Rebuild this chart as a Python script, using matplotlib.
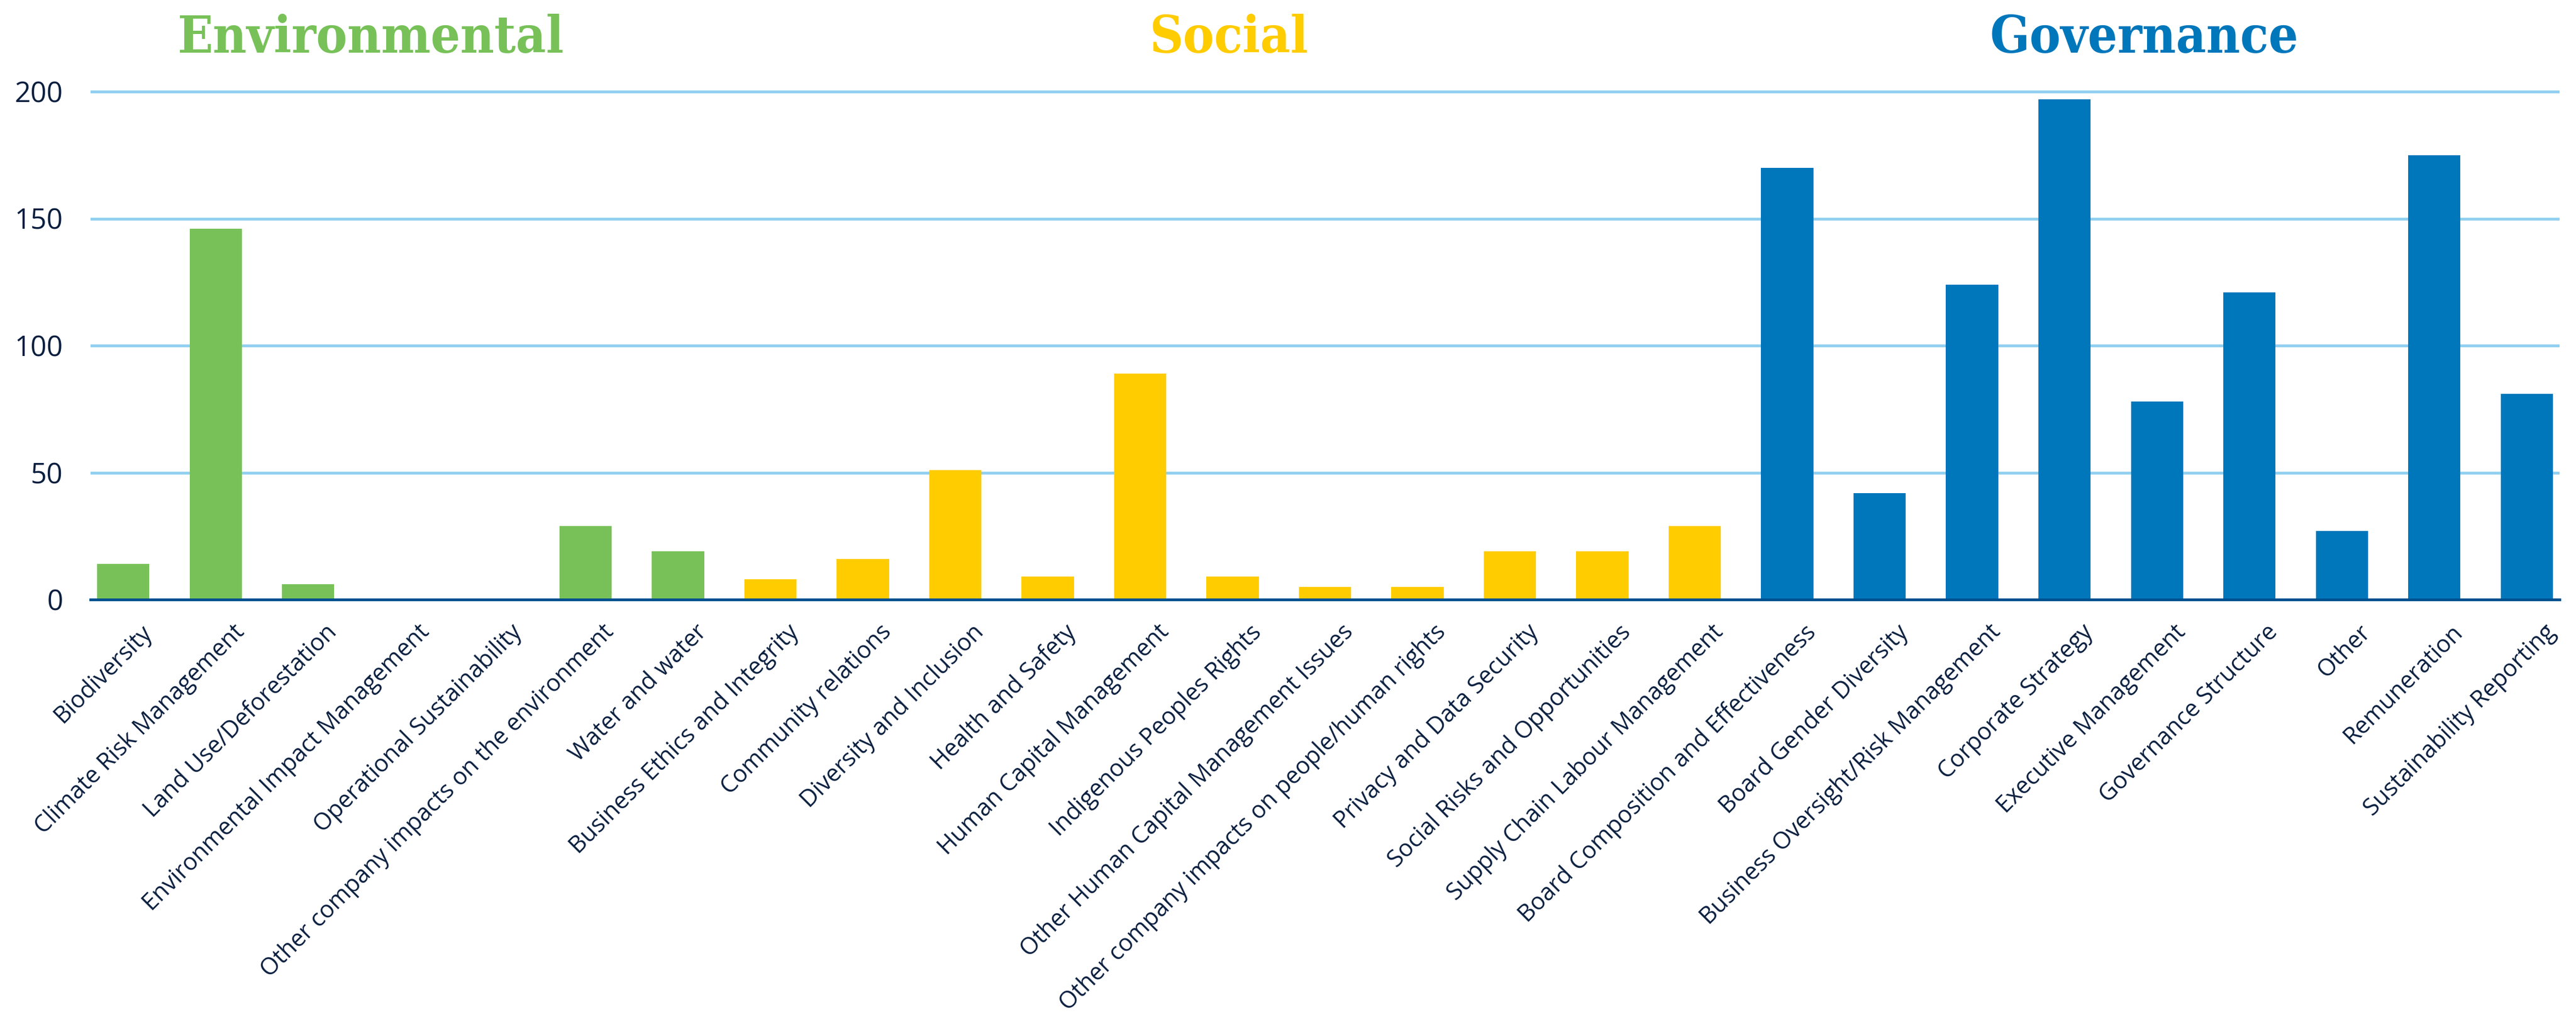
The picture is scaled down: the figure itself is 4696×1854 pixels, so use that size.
import matplotlib
matplotlib.use('Agg')
import matplotlib.pyplot as plt
import matplotlib.transforms as mtransforms
import numpy as np

# topic counts per ESG pillar
env_topics = ['Biodiversity', 'Climate Risk Management', 'Land Use/Deforestation',
              'Environmental Impact Management', 'Operational Sustainability',
              'Other company impacts on the environment', 'Water and water']
env_counts = [14, 146, 6, 0, 0, 29, 19]

soc_topics = ['Business Ethics and Integrity', 'Community relations', 'Diversity and Inclusion',
              'Health and Safety', 'Human Capital Management', 'Indigenous Peoples Rights',
              'Other Human Capital Management Issues',
              'Other company impacts on people/human rights', 'Privacy and Data Security',
              'Social Risks and Opportunities', 'Supply Chain Labour Management']
soc_counts = [8, 16, 51, 9, 89, 9, 5, 5, 19, 19, 29]

gov_topics = ['Board Composition and Effectiveness', 'Board Gender Diversity',
              'Business Oversight/Risk Management', 'Corporate Strategy',
              'Executive Management', 'Governance Structure', 'Other', 'Remuneration',
              'Sustainability Reporting']
gov_counts = [170, 42, 124, 197, 78, 121, 27, 175, 81]

pillars = ['Environmental', 'Social', 'Governance']
y_ticks = [0, 50, 100, 150, 200]

GREEN = '#78c159'
YELLOW = '#ffcc00'
BLUE = '#0077bb'
NAVY = '#0b1f3f'
GRID = '#92d0f0'
AXIS = '#00518f'

W, H = 4696, 1854
fig = plt.figure(figsize=(W / 100, H / 100), dpi=100)
ax = fig.add_axes([165 / W, (H - 1093) / H, (4666 - 165) / W, 210 * 4.63 / H])

topics = env_topics + soc_topics + gov_topics
counts = env_counts + soc_counts + gov_counts
colors = [GREEN] * len(env_topics) + [YELLOW] * len(soc_topics) + [BLUE] * len(gov_topics)
x = np.arange(len(topics))

ax.bar(x, counts, width=0.565, color=colors, zorder=2)

ax.set_xlim(-0.355, len(topics) - 1 + 0.355)
ax.set_ylim(0, 210)
ax.set_yticks(y_ticks)
ax.yaxis.grid(True, color=GRID, linewidth=3.8)
ax.set_axisbelow(True)

for side in ['top', 'right', 'left']:
    ax.spines[side].set_visible(False)
ax.spines['bottom'].set_color(AXIS)
ax.spines['bottom'].set_linewidth(3.6)
ax.spines['bottom'].set_zorder(3)

ax.tick_params(axis='y', length=0, pad=36, labelsize=37, labelcolor=NAVY)
ax.tick_params(axis='x', length=0, pad=27)
for lab in ax.get_yticklabels():
    lab.set_family('Open Sans')

ax.set_xticks(x)
ax.set_xticklabels(topics, rotation=45, rotation_mode='anchor', ha='right', va='top',
                   fontsize=31, color=NAVY, family='Open Sans')
shift = mtransforms.ScaledTranslation(0.30, 0, fig.dpi_scale_trans)
for lab in ax.get_xticklabels():
    lab.set_transform(lab.get_transform() + shift)

# pillar headings above the bars
for name, xc, col in zip(pillars, [675 / W, 2240 / W, 3909 / W], [GREEN, YELLOW, BLUE]):
    fig.text(xc, 1 - 96 / H, name, ha='center', va='baseline', color=col,
             fontsize=68, fontweight='bold', family='DejaVu Serif', fontstretch='condensed')

fig.savefig('out.png', dpi=100, facecolor='white')
